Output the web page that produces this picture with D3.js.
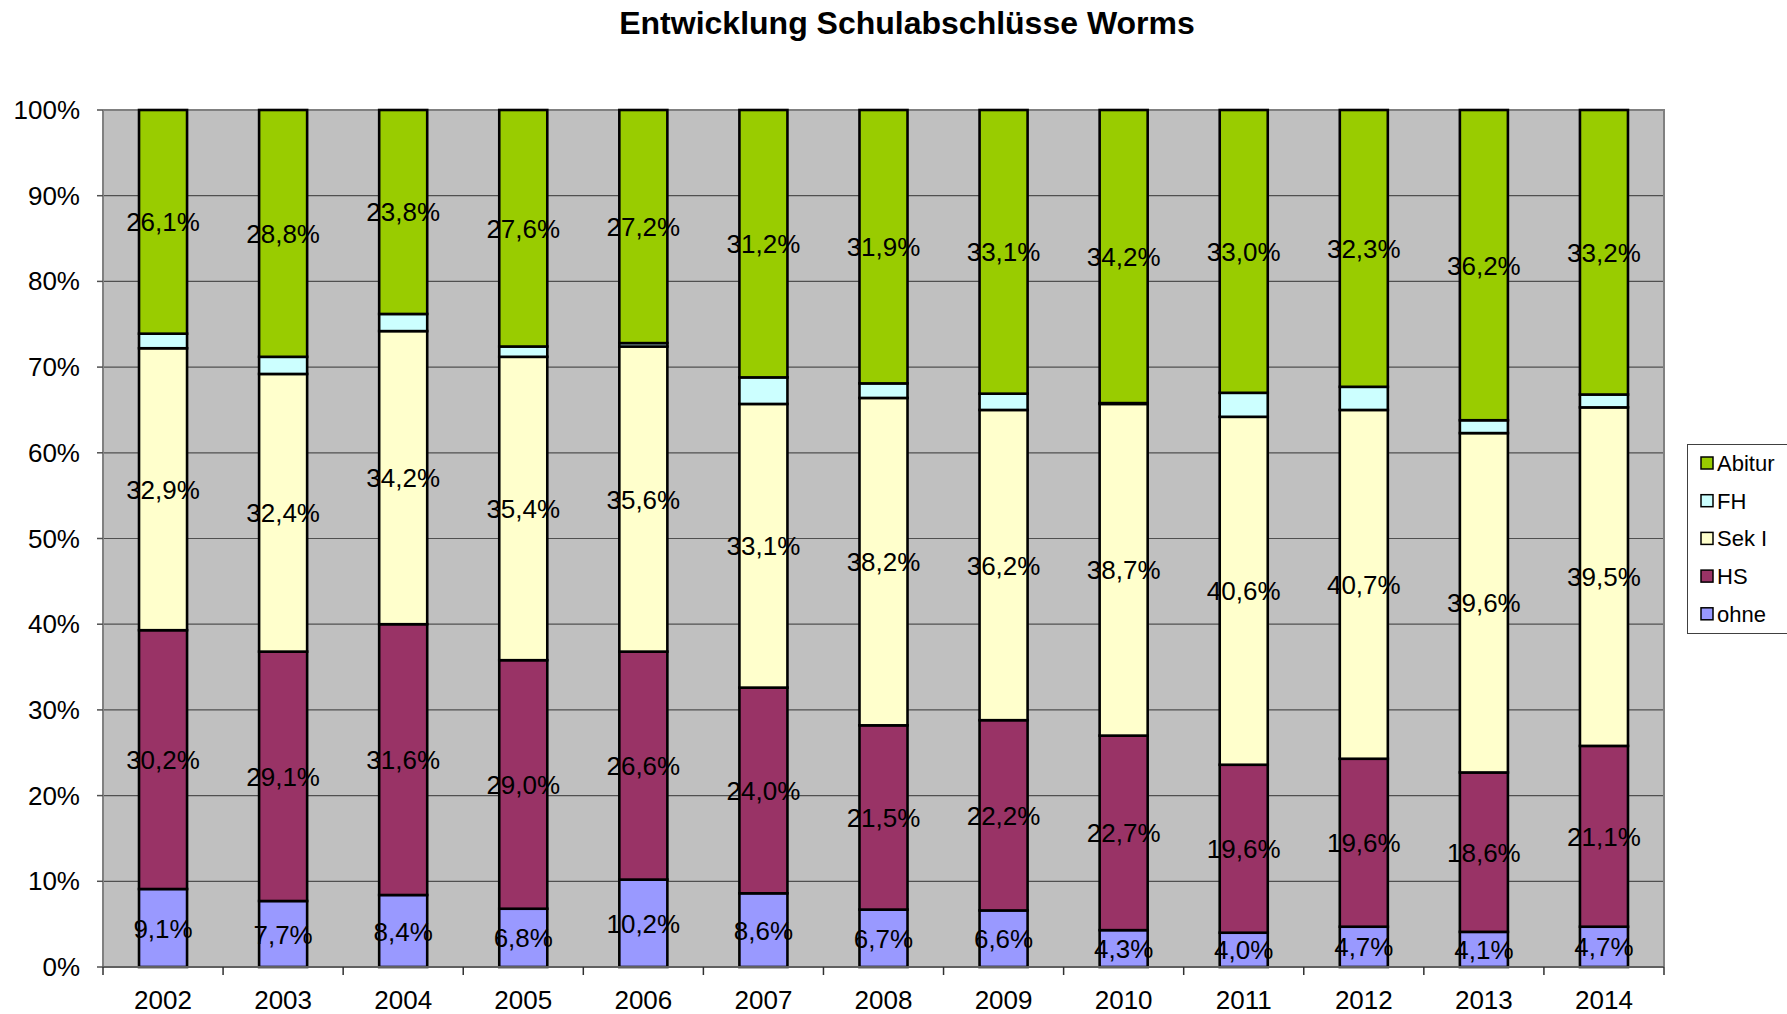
<!DOCTYPE html>
<html>
<head>
<meta charset="utf-8">
<script src="https://cdn.jsdelivr.net/npm/d3@7"></script>
<style>
body{margin:0;background:#fff;}
text{font-family:Arial,"Liberation Sans",sans-serif;}
</style>
</head>
<body>
<div id="viz"></div>
<script>
// Werte in Prozent, von unten nach oben gestapelt
var years = ["2002","2003","2004","2005","2006","2007","2008","2009","2010","2011","2012","2013","2014"];
var ohne   = [9.1, 7.7, 8.4, 6.8, 10.2, 8.6, 6.7, 6.6, 4.3, 4.0, 4.7, 4.1, 4.7];
var hs     = [30.2, 29.1, 31.6, 29.0, 26.6, 24.0, 21.5, 22.2, 22.7, 19.6, 19.6, 18.6, 21.1];
var sek1   = [32.9, 32.4, 34.2, 35.4, 35.6, 33.1, 38.2, 36.2, 38.7, 40.6, 40.7, 39.6, 39.5];
var fh     = [1.7, 2.0, 2.0, 1.2, 0.4, 3.1, 1.7, 1.9, 0.1, 2.8, 2.7, 1.5, 1.5];
var abitur = [26.1, 28.8, 23.8, 27.6, 27.2, 31.2, 31.9, 33.1, 34.2, 33.0, 32.3, 36.2, 33.2];
var yTicks = [0,10,20,30,40,50,60,70,80,90,100];

var series = [
    {key:"ohne", values:ohne, color:"#9999FF", label:true},
    {key:"HS", values:hs, color:"#993366", label:true},
    {key:"Sek I", values:sek1, color:"#FFFFCC", label:true},
    {key:"FH", values:fh, color:"#CCFFFF", label:false},
    {key:"Abitur", values:abitur, color:"#99CC00", label:true}
];

var rows = years.map(function(y,i){
    var r = {year:y};
    series.forEach(function(s){ r[s.key] = s.values[i]; });
    return r;
});

var W = 1787, H = 1014;
var pLeft = 103, pRight = 1664, pTop = 110, pBottom = 967; // window.top ist reserviert

var svg = d3.select("#viz")
    .append("svg")
    .attr("width",W)
    .attr("height",H);

var x = d3.scaleBand().domain(years).range([pLeft,pRight]).paddingInner(0.6).paddingOuter(0.3);
var xb = d3.scaleBand().domain(years).range([pLeft,pRight]); // fuer die Tickstriche
var y = d3.scaleLinear().domain([0,100]).range([pBottom,pTop]);

// Hintergrund
svg.append("rect")
    .attr("x",pLeft).attr("y",pTop)
    .attr("width",pRight-pLeft).attr("height",pBottom-pTop)
    .attr("fill","#C0C0C0");

// Gitterlinien
svg.append("g").selectAll("line")
    .data(yTicks.filter(function(d){return d>0 && d<100;}))
    .enter().append("line")
    .attr("x1",pLeft).attr("x2",pRight)
    .attr("y1",function(d){return y(d);}).attr("y2",function(d){return y(d);})
    .attr("stroke","#505050").attr("stroke-width",1.2);

// Rahmen oben/rechts
svg.append("path")
    .attr("d","M"+pLeft+","+pTop+"H"+pRight+"V"+pBottom)
    .attr("fill","none").attr("stroke","#808080").attr("stroke-width",2);

var stack = d3.stack().keys(series.map(function(s){return s.key;}));
var stacked = stack(rows);

var layers = svg.append("g").selectAll("g")
    .data(stacked)
    .enter().append("g")
    .attr("fill",function(d,i){return series[i].color;});

layers.selectAll("rect")
    .data(function(d){return d;})
    .enter().append("rect")
    .attr("x",function(d){return x(d.data.year);})
    .attr("width",x.bandwidth())
    .attr("y",function(d){return y(d[1]);})
    .attr("height",function(d){return y(d[0])-y(d[1]);})
    .attr("stroke","#000")
    .attr("stroke-width",2.6);

// Beschriftungen
stacked.forEach(function(layer,i){
    if(!series[i].label) return;
    svg.append("g").selectAll("text")
        .data(layer)
        .enter().append("text")
        .attr("x",function(d){return x(d.data.year)+x.bandwidth()/2;})
        .attr("y",function(d){return y((d[0]+d[1])/2)+9.5;})
        .attr("text-anchor","middle")
        .attr("font-size",26)
        .attr("fill","#000")
        .text(function(d){return (d[1]-d[0]).toFixed(1).replace(".",",")+"%";});
});

// y-Achse
var yAxis = svg.append("g");
yAxis.append("line")
    .attr("x1",pLeft).attr("x2",pLeft).attr("y1",pTop).attr("y2",pBottom)
    .attr("stroke","#808080").attr("stroke-width",2);
yAxis.selectAll("line.tick")
    .data(yTicks).enter().append("line")
    .attr("class","tick")
    .attr("x1",pLeft-6).attr("x2",pLeft)
    .attr("y1",function(d){return y(d);}).attr("y2",function(d){return y(d);})
    .attr("stroke","#505050").attr("stroke-width",1.5);
yAxis.selectAll("text")
    .data(yTicks).enter().append("text")
    .attr("x",80)
    .attr("y",function(d){return y(d)+9;})
    .attr("text-anchor","end")
    .attr("font-size",26)
    .text(function(d){return d+"%";});

// x-Achse
var xAxis = svg.append("g");
xAxis.append("line")
    .attr("x1",pLeft).attr("x2",pRight).attr("y1",pBottom).attr("y2",pBottom)
    .attr("stroke","#606060").attr("stroke-width",2);
xAxis.selectAll("line.tick")
    .data(years.concat(["end"])).enter().append("line")
    .attr("class","tick")
    .attr("x1",function(d,i){return pLeft+i*xb.bandwidth();})
    .attr("x2",function(d,i){return pLeft+i*xb.bandwidth();})
    .attr("y1",pBottom).attr("y2",pBottom+8)
    .attr("stroke","#303030").attr("stroke-width",1.5);
xAxis.selectAll("text")
    .data(years).enter().append("text")
    .attr("x",function(d){return xb(d)+xb.bandwidth()/2;})
    .attr("y",1009)
    .attr("text-anchor","middle")
    .attr("font-size",26)
    .text(function(d){return d;});

// Titel
svg.append("text")
    .attr("x",907).attr("y",34)
    .attr("text-anchor","middle")
    .attr("font-size",32)
    .attr("font-weight","bold")
    .text("Entwicklung Schulabschlüsse Worms");

// Legende
var leg = svg.append("g");
leg.append("rect")
    .attr("x",1687.5).attr("y",444.5)
    .attr("width",120).attr("height",189)
    .attr("fill","#fff").attr("stroke","#404040").attr("stroke-width",1);
var legItems = series.slice().reverse();
var li = leg.selectAll("g.item")
    .data(legItems).enter().append("g")
    .attr("class","item")
    .attr("transform",function(d,i){return "translate(1701,"+(463+i*37.7)+")";});
li.append("rect")
    .attr("x",0).attr("y",-6).attr("width",12).attr("height",12)
    .attr("fill",function(d){return d.color;})
    .attr("stroke","#000").attr("stroke-width",1.5);
li.append("text")
    .attr("x",16).attr("y",8)
    .attr("font-size",22)
    .text(function(d){return d.key;});
</script>
</body>
</html>
